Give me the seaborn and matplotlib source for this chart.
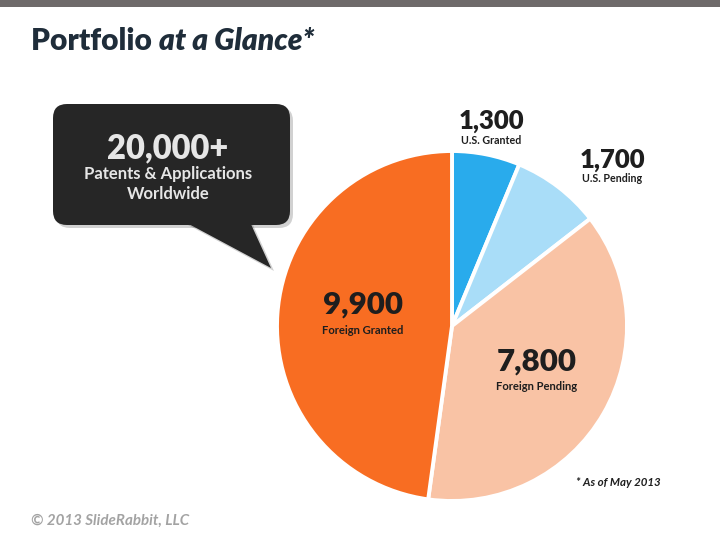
import matplotlib
matplotlib.use("Agg")
import matplotlib.pyplot as plt
import seaborn as sns
from matplotlib.patches import FancyBboxPatch, Polygon, Rectangle

sns.set_style("white")
plt.rcParams['font.family'] = ['Lato', 'DejaVu Sans']

# Data
categories = ["U.S. Granted", "U.S. Pending", "Foreign Pending", "Foreign Granted"]
values = [1300, 1700, 7800, 9900]
value_labels = ["1,300", "1,700", "7,800", "9,900"]
colors = sns.color_palette(["#29ABEC", "#A9DDF8", "#F9C3A5", "#F86D22"])
total_label = "20,000+"
total_sub = ["Patents & Applications", "Worldwide"]

H = 540
def Y(y):
    return H - y

fig = plt.figure(figsize=(7.2, 5.4), dpi=100)
ax = fig.add_axes([0, 0, 1, 1])

# Top bar
ax.add_patch(Rectangle((0, Y(7)), 720, 7, color="#6E6A6A", lw=0, zorder=1))

# Pie
cx, cy, r = 452, Y(326), 175
ax.pie(values, colors=colors, startangle=90, counterclock=False,
       center=(cx, cy), radius=r,
       wedgeprops=dict(edgecolor="white", linewidth=2.8))
ax.set_xlim(0, 720)
ax.set_ylim(0, 540)
ax.set_aspect('auto')
ax.axis('off')

dark = "#1E1E1E"
# Labels: (x, y_number, y_category)
pos = [(491, 121, 140), (612, 160, 178), (537, 362, 387), (363, 305, 331)]
big = [18.5, 18.5, 22.5, 22.5]
small = [7.7, 7.7, 8.1, 8.1]
for (x, yn, yc), v, c, bs, ss in zip(pos, value_labels, categories, big, small):
    ax.text(x, Y(yn), v, ha='center', va='center', fontsize=bs, fontweight='heavy', color=dark)
    ax.text(x, Y(yc), c, ha='center', va='center', fontsize=ss, fontweight='bold', color=dark)

# Speech bubble (shadow + body)
bx0, by0, bx1, by1 = 53, 104, 290, 225
for off, col, z in [((3, -3), (0, 0, 0, 0.18), 3), ((0, 0), "#262626", 4)]:
    ax.add_patch(FancyBboxPatch((bx0 + 14 + off[0], Y(by1) + 14 + off[1]),
                                (bx1 - bx0) - 28, (by1 - by0) - 28,
                                boxstyle="round,pad=14", fc=col, ec='none', zorder=z))
    ax.add_patch(Polygon([(185 + off[0], Y(222) + off[1]), (250 + off[0], Y(222) + off[1]),
                          (271 + off[0], Y(268) + off[1])],
                         closed=True, fc=col, ec='none', zorder=z))

ax.text(168, Y(148), total_label, ha='center', va='center', fontsize=23.5,
        fontweight='heavy', color="#E6E6E6", zorder=5)
ax.text(168, Y(174), total_sub[0], ha='center', va='center', fontsize=12,
        fontweight='bold', color="#E6E6E6", zorder=5)
ax.text(168, Y(194), total_sub[1], ha='center', va='center', fontsize=12,
        fontweight='bold', color="#E6E6E6", zorder=5)

# Title
title_col = "#1F2D3A"
t1 = ax.text(31, Y(41), "Portfolio ", ha='left', va='center', fontsize=21.5,
             fontweight='heavy', color=title_col)
fig.canvas.draw()
bb = t1.get_window_extent(renderer=fig.canvas.get_renderer())
x_end = ax.transData.inverted().transform((bb.x1, bb.y0))[0]
ax.text(x_end, Y(41), "at a Glance*", ha='left', va='center', fontsize=21.5,
        fontweight='heavy', style='italic', color=title_col)

# Footnotes
ax.text(576, Y(482), "* As of May 2013", ha='left', va='center', fontsize=8.3,
        fontweight='bold', style='italic', color=dark)
ax.text(31, Y(521), "\u00a9 2013 SlideRabbit, LLC", ha='left', va='center', fontsize=10.9,
        fontweight='bold', style='italic', color="#A3A3A3")

fig.savefig("out.png", dpi=100)
